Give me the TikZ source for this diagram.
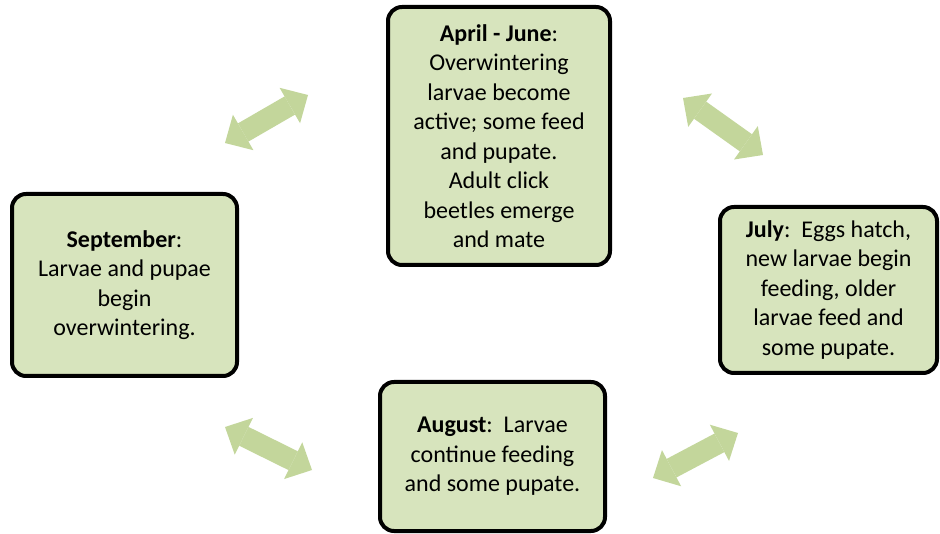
\documentclass[tikz,border=0pt]{standalone}
\usepackage{fontspec}
\setmainfont{Carlito}
\usetikzlibrary{arrows.meta}
\definecolor{stagefill}{HTML}{D7E4BD}
\definecolor{flowgreen}{HTML}{C3D69B}

\tikzset{
  stage/.style={draw=black, line width=4pt, fill=stagefill, rounded corners=14pt,
    align=center, inner sep=0pt, font=\fontsize{24}{29.5}\selectfont},
  flow/.style={draw=flowgreen, line width=21pt,
    {Triangle[length=21pt,width=41pt,line width=0pt]}-{Triangle[length=21pt,width=41pt,line width=0pt]}}
}

\begin{document}
\begin{tikzpicture}[x=1pt,y=-1pt]
  \useasboundingbox (0,0) rectangle (940,534);

  \node (apr) [stage, minimum width=222pt, minimum height=258pt] at (499,136)
    {\textbf{April - June}:\\Overwintering\\larvae become\\active; some feed\\and pupate.\\Adult click\\beetles emerge\\and mate};
  \node (jul) [stage, minimum width=217pt, minimum height=166pt] at (828.5,290)
    {\textbf{July}:\ \ Eggs hatch,\\new larvae begin\\feeding, older\\larvae feed and\\some pupate.};
  \node (aug) [stage, minimum width=225pt, minimum height=149pt] at (492.5,456.5)
    {\textbf{August}:\ \ Larvae\\continue feeding\\and some pupate.};
  \node (sep) [stage, minimum width=225pt, minimum height=182pt] at (124.5,285)
    {\textbf{September}:\\Larvae and pupae\\begin\\overwintering.};

  \coordinate (sep-apr1) at (225,143);
  \coordinate (sep-apr2) at (308,95);
  \coordinate (apr-jul1) at (683,98);
  \coordinate (apr-jul2) at (763,155);
  \coordinate (jul-aug1) at (738,433);
  \coordinate (jul-aug2) at (653,478);
  \coordinate (aug-sep1) at (312,470);
  \coordinate (aug-sep2) at (225,427);

  \draw[flow] (sep-apr1) -- (sep-apr2);
  \draw[flow] (apr-jul1) -- (apr-jul2);
  \draw[flow] (jul-aug1) -- (jul-aug2);
  \draw[flow] (aug-sep1) -- (aug-sep2);
\end{tikzpicture}
\end{document}
